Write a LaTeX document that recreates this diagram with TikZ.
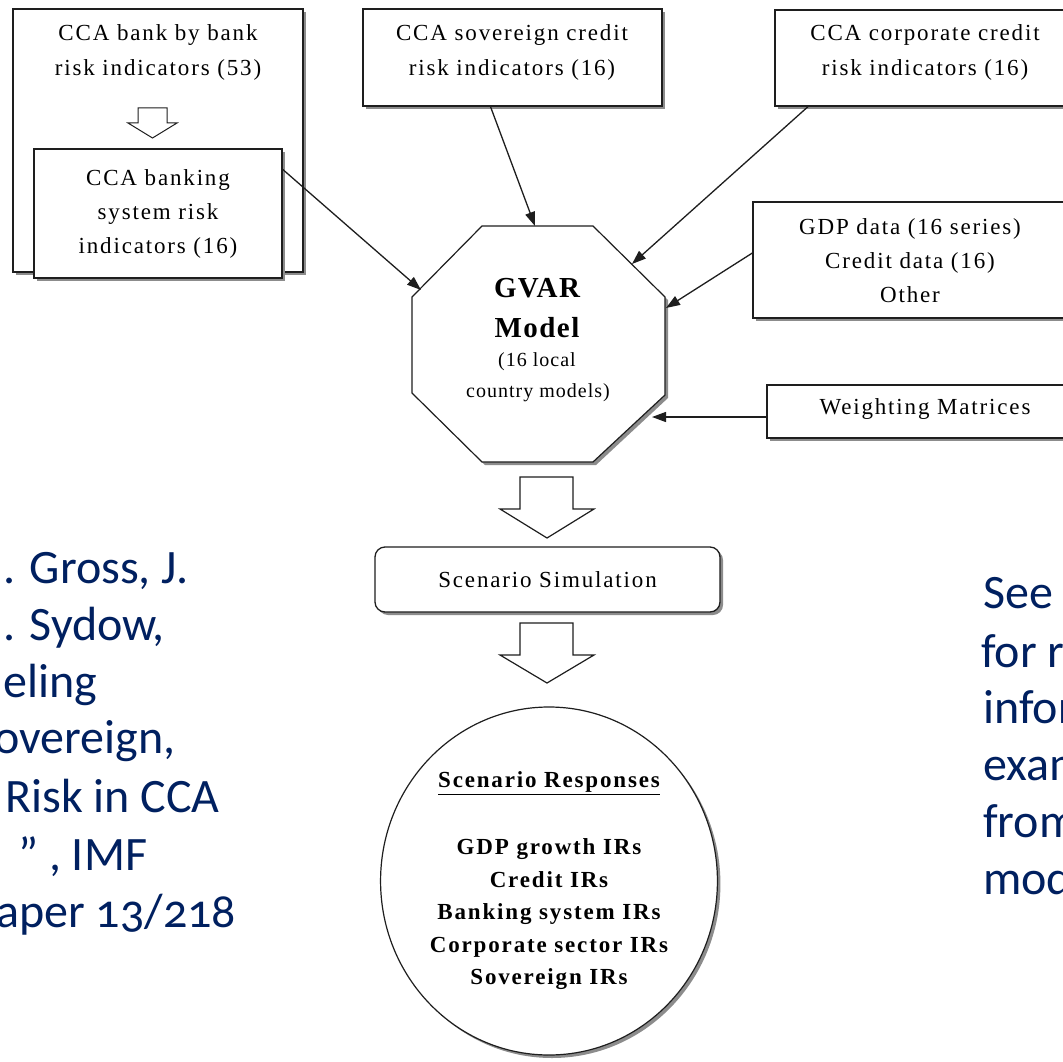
\documentclass[tikz,border=0pt]{standalone}
\usepackage{fontspec}
\setmainfont{Liberation Serif}
\newfontfamily\boxfont{Liberation Serif}[LetterSpace=8]
\newfontfamily\gvfont{Liberation Serif}[LetterSpace=5]
\newfontfamily\slidefont{Carlito}[Numbers=OldStyle]
\usetikzlibrary{arrows.meta,shapes.geometric,shadows,calc}
\definecolor{slideblue}{HTML}{002060}
\definecolor{edge}{HTML}{1E1E1E}

\tikzset{
  boxshadow/.style={drop shadow={shadow xshift=3pt,shadow yshift=-3pt,fill=black!45,opacity=1}},
  inbox/.style={draw=edge,line width=1.3pt,fill=white,boxshadow,inner sep=0pt,
    align=center,font=\boxfont\fontsize{23}{34}\selectfont},
  boxtext/.style={inner sep=0pt,align=center,font=\boxfont\fontsize{23}{35}\selectfont},
  gvbig/.style={inner sep=0pt,font=\gvfont\bfseries\fontsize{29}{36}\selectfont},
  gvsmall/.style={inner sep=0pt,font=\gvfont\fontsize{20}{26}\selectfont},
  feed/.style={draw=edge,line width=1.3pt,-{Triangle[length=14pt,width=10pt]}},
  fat/.style={draw=edge,line width=1.2pt,fill=white,line join=miter},
  note/.style={text=slideblue,font=\slidefont\fontsize{48}{57}\selectfont,anchor=base west,inner sep=0pt},
}

\begin{document}
\begin{tikzpicture}[x=1pt,y=-1pt]
\useasboundingbox (0,0) rectangle (1063,1062);
\clip (0,0) rectangle (1063,1062);
\fill[white] (0,0) rectangle (1063,1062);

% bank-level indicators, with the aggregated system box inside
\node[inbox,minimum width=290pt,minimum height=263pt] (bank) at (158,140.5) {};
\node[boxtext] (banktext) at (158,52) {CCA bank by bank\\risk indicators (53)};
\draw[fat,line width=1pt] (138,108) -- (167,108) -- (167,123) -- (177,123) -- (152.5,138)
  -- (128,123) -- (138,123) -- cycle;
\node[inbox,minimum width=248pt,minimum height=129pt] (banksys) at (158,213.5)
  {CCA banking\\system risk\\indicators (16)};

% other input blocks
\node[inbox,minimum width=299pt,minimum height=97pt] (sov) at (512.5,57.5) {};
\node[boxtext] (sovtext) at (512,52.5) {CCA sovereign credit\\risk indicators (16)};
\node[inbox,minimum width=300pt,minimum height=96pt] (corp) at (925,58) {};
\node[boxtext] (corptext) at (925,52.5) {CCA corporate credit\\risk indicators (16)};
\node[inbox,minimum width=322pt,minimum height=116pt] (gdp) at (914,260) {};
\node[boxtext,font=\boxfont\fontsize{23}{34}\selectfont] (gdptext) at (910,261)
  {GDP data (16 series)\\Credit data (16)\\Other};
\node[inbox,minimum width=308pt,minimum height=53pt] (wm) at (921,411.5) {};
\node[boxtext] (wmtext) at (925,409) {Weighting Matrices};

% GVAR octagon
\fill[black!45] (485,229) -- (596,229) -- (668,300) -- (668,398) -- (596,465) -- (485,465)
  -- (415,396) -- (415,300) -- cycle;
\filldraw[draw=edge,fill=white,line width=1.2pt] (482,226) -- (593,226) -- (665,297)
  -- (665,395) -- (593,462) -- (482,462) -- (412,393) -- (412,297) -- cycle;
\coordinate (gvA) at (421,290);
\coordinate (gvB) at (535,226);
\coordinate (gvC) at (632,264);
\coordinate (gvD) at (666,308);
\coordinate (gvE) at (652,417);
\node[gvbig] (gv1) at (537,288) {GVAR};
\node[gvbig] (gv2) at (537,328) {Model};
\node[gvsmall] (gv3) at (537,362) {(16 local};
\node[gvsmall] (gv4) at (538,393) {country models)};

% inputs feeding the model
\draw[feed] ([yshift=-21pt]banksys.north east) -- (gvA);
\draw[feed] ([xshift=-22pt]sov.south) -- (gvB);
\draw[feed] ([xshift=-117pt]corp.south) -- (gvC);
\draw[feed] ([yshift=7pt]gdp.west) -- (gvD);
\draw[feed] ([yshift=-5.5pt]wm.west) -- (gvE);

% simulation and responses
\draw[fat] (520,477) -- (573,477) -- (573,509) -- (594,509) -- (547,538) -- (500,509)
  -- (520,509) -- cycle;
\node[inbox,rounded corners=10pt,minimum width=345pt,minimum height=65pt] (scen)
  at (547.5,579.5) {Scenario Simulation};
\draw[fat] (520,623) -- (573,623) -- (573,655) -- (594,655) -- (547,683) -- (500,655)
  -- (520,655) -- cycle;
\node[ellipse,draw=edge,line width=1.2pt,fill=white,boxshadow,inner sep=0pt,
  minimum width=328pt,minimum height=348pt,align=center,
  font=\boxfont\bfseries\fontsize{23}{32.5}\selectfont] (resp) at (549,881)
  {\underline{Scenario Responses}\\[34.5pt]GDP growth IRs\\Credit IRs\\Banking system IRs\\
   Corporate sector IRs\\Sovereign IRs};

% slide text beside the chart
\node[note] (ref1) at (3,583) {. Gross, J.};
\node[note] (ref2) at (3,640) {. Sydow,};
\node[note] (ref3) at (3,697) {eling};
\node[note] (ref4) at (-6,753) {overeign,};
\node[note] (ref5) at (5,812) {Risk in CCA};
\node[note] (ref6) at (18,870) {” , IMF};
\node[note] (ref7) at (-4,927) {aper 13/218};

\node[note] (see1) at (983,608) {See};
\node[note] (see2) at (981,667) {for r};
\node[note] (see3) at (983,723) {infor};
\node[note] (see4) at (983,780) {exam};
\node[note] (see5) at (983,837) {from};
\node[note] (see6) at (983,894) {mod};
\end{tikzpicture}
\end{document}
